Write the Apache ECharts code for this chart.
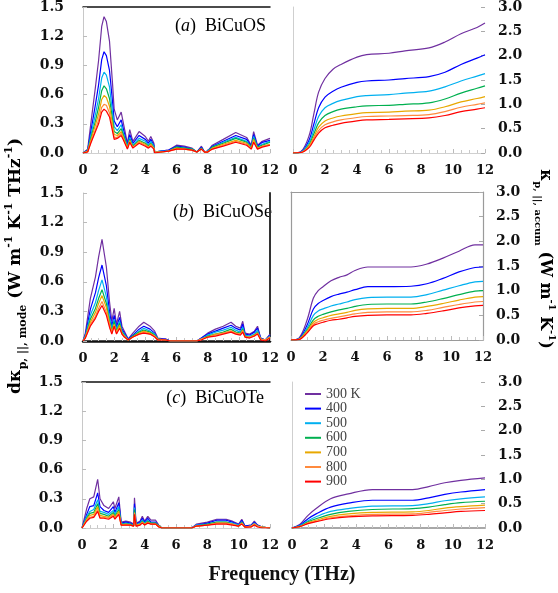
<!DOCTYPE html>
<html><head><meta charset="utf-8">
<script src="https://cdn.jsdelivr.net/npm/echarts@6/dist/echarts.min.js"></script>
<style>html,body{margin:0;padding:0;background:#fff}#c{width:558px;height:593px}</style>
</head><body><div id="c"></div>
<script>
// ---------- labels ----------
const TEMPS = ['300 K','400','500','600','700','800','900'];
const COLORS = ['#7030A0','#0000FF','#00B0F0','#00B050','#E8A800','#FF8A3D','#FF0000'];
const PANEL_LABELS = [['a','BiCuOS'],['b','BiCuOSe'],['c','BiCuOTe']];
const X_TITLE = 'Frequency (THz)';

// ---------- (a) BiCuOS : spectral ----------
const fA = [0,0.3,0.5,0.8,1.0,1.2,1.35,1.5,1.7,1.9,2.0,2.2,2.45,2.6,2.85,3.0,3.2,3.6,4.0,4.2,4.35,4.55,4.6,5.0,5.5,6.0,6.5,7.0,7.3,7.6,7.8,8.0,8.3,9.0,9.8,10.5,10.8,10.95,11.2,11.5,12];
const a300 = [0,0.04,0.30,0.68,0.95,1.30,1.40,1.35,1.15,0.70,0.45,0.34,0.42,0.30,0.10,0.24,0.12,0.22,0.17,0.12,0.17,0.10,0.01,0.02,0.03,0.08,0.07,0.05,0.01,0.07,0.01,0.02,0.08,0.14,0.21,0.16,0.08,0.22,0.08,0.12,0.15];
const a400 = [0,0.03,0.22,0.50,0.70,0.96,1.04,1.00,0.85,0.52,0.33,0.27,0.34,0.24,0.08,0.19,0.10,0.18,0.14,0.10,0.14,0.08,0.01,0.02,0.03,0.07,0.06,0.04,0.01,0.06,0.01,0.02,0.07,0.12,0.18,0.14,0.07,0.19,0.07,0.11,0.13];
const a500 = [0,0.02,0.18,0.40,0.56,0.77,0.83,0.80,0.68,0.41,0.27,0.23,0.29,0.20,0.07,0.16,0.08,0.15,0.12,0.08,0.12,0.07,0.01,0.02,0.02,0.06,0.05,0.04,0.01,0.05,0.01,0.02,0.06,0.11,0.16,0.12,0.06,0.17,0.06,0.09,0.12];
const a600 = [0,0.02,0.15,0.33,0.47,0.64,0.69,0.66,0.56,0.34,0.22,0.20,0.25,0.18,0.06,0.14,0.07,0.13,0.10,0.07,0.10,0.06,0.01,0.01,0.02,0.06,0.05,0.04,0.01,0.05,0.01,0.01,0.06,0.10,0.15,0.11,0.06,0.15,0.06,0.08,0.11];
const a700 = [0,0.02,0.13,0.29,0.40,0.55,0.59,0.57,0.48,0.29,0.19,0.18,0.22,0.16,0.05,0.13,0.06,0.12,0.09,0.06,0.09,0.05,0.01,0.01,0.02,0.05,0.04,0.03,0.01,0.04,0.01,0.01,0.05,0.09,0.13,0.10,0.05,0.14,0.05,0.07,0.09];
const a800 = [0,0.01,0.11,0.24,0.34,0.47,0.50,0.49,0.41,0.25,0.16,0.16,0.20,0.14,0.05,0.12,0.06,0.11,0.08,0.06,0.08,0.05,0.01,0.01,0.02,0.04,0.04,0.03,0.01,0.04,0.01,0.01,0.04,0.08,0.12,0.09,0.04,0.12,0.04,0.07,0.08];
const a900 = [0,0.01,0.10,0.22,0.30,0.42,0.45,0.43,0.37,0.22,0.14,0.15,0.18,0.13,0.04,0.11,0.05,0.10,0.07,0.05,0.07,0.04,0.00,0.01,0.02,0.04,0.04,0.03,0.01,0.04,0.01,0.01,0.04,0.07,0.11,0.08,0.04,0.11,0.04,0.06,0.08];

// ---------- (a) BiCuOS : cumulative ----------
const cfA = [0,0.5,1.0,1.3,1.6,2.0,2.5,3.0,4.0,4.6,6.0,7.0,8.5,9.5,10.5,11.5,12];
const ca300 = [0,0.03,0.35,0.80,1.25,1.53,1.72,1.82,1.97,2.02,2.05,2.10,2.16,2.28,2.45,2.58,2.67];
const ca400 = [0,0.02,0.26,0.59,0.93,1.15,1.27,1.35,1.45,1.48,1.50,1.53,1.57,1.66,1.82,1.95,2.02];
const ca500 = [0,0.02,0.21,0.47,0.75,0.93,1.02,1.08,1.16,1.18,1.20,1.23,1.27,1.36,1.48,1.58,1.63];
const ca600 = [0,0.01,0.17,0.39,0.62,0.77,0.85,0.90,0.95,0.97,0.98,1.00,1.03,1.11,1.23,1.33,1.38];
const ca700 = [0,0.01,0.15,0.33,0.53,0.66,0.72,0.76,0.81,0.83,0.84,0.86,0.88,0.95,1.05,1.12,1.16];
const ca800 = [0,0.01,0.13,0.29,0.46,0.58,0.64,0.68,0.73,0.75,0.76,0.77,0.79,0.85,0.94,1.00,1.03];
const ca900 = [0,0.01,0.11,0.26,0.41,0.52,0.57,0.61,0.66,0.68,0.69,0.70,0.72,0.77,0.85,0.90,0.93];

// ---------- (b) BiCuOSe : spectral ----------
const fB = [0,0.15,0.47,0.8,1.0,1.22,1.5,1.7,1.85,2.0,2.15,2.35,2.5,2.65,2.9,3.2,3.6,3.9,4.3,4.6,4.8,5.3,5.6,7.3,7.6,8.0,8.5,9.0,9.5,9.8,10.1,10.25,10.4,10.7,11.0,11.2,11.4,11.7,12];
const b300 = [0,0.08,0.43,0.65,0.85,1.03,0.75,0.40,0.20,0.33,0.17,0.30,0.15,0.10,0.02,0.08,0.15,0.19,0.15,0.10,0.03,0.02,0.00,0.00,0.03,0.08,0.12,0.15,0.19,0.15,0.13,0.20,0.08,0.07,0.10,0.15,0.03,0.01,0.07];
const b400 = [0,0.06,0.32,0.49,0.64,0.77,0.56,0.30,0.15,0.26,0.14,0.24,0.12,0.08,0.02,0.06,0.12,0.15,0.12,0.08,0.02,0.02,0.00,0.00,0.03,0.07,0.10,0.13,0.16,0.13,0.11,0.17,0.07,0.06,0.09,0.13,0.03,0.01,0.06];
const b500 = [0,0.05,0.26,0.39,0.51,0.62,0.45,0.24,0.12,0.22,0.12,0.20,0.10,0.07,0.01,0.05,0.10,0.13,0.10,0.07,0.02,0.01,0.00,0.00,0.02,0.06,0.09,0.11,0.14,0.11,0.09,0.14,0.06,0.05,0.07,0.11,0.02,0.01,0.05];
const b600 = [0,0.04,0.22,0.33,0.43,0.52,0.38,0.20,0.10,0.20,0.10,0.18,0.09,0.06,0.01,0.05,0.09,0.11,0.09,0.06,0.02,0.01,0.00,0.00,0.02,0.05,0.07,0.09,0.12,0.09,0.08,0.12,0.05,0.04,0.06,0.09,0.02,0.01,0.04];
const b700 = [0,0.04,0.19,0.29,0.38,0.46,0.34,0.18,0.09,0.17,0.09,0.16,0.08,0.05,0.01,0.04,0.08,0.10,0.08,0.05,0.02,0.01,0.00,0.00,0.02,0.04,0.07,0.08,0.10,0.08,0.07,0.11,0.04,0.04,0.06,0.08,0.02,0.01,0.04];
const b800 = [0,0.03,0.17,0.25,0.33,0.40,0.29,0.16,0.08,0.16,0.08,0.14,0.07,0.05,0.01,0.04,0.07,0.09,0.07,0.05,0.01,0.01,0.00,0.00,0.02,0.04,0.06,0.08,0.10,0.08,0.07,0.10,0.04,0.04,0.05,0.08,0.02,0.01,0.04];
const b900 = [0,0.03,0.15,0.23,0.30,0.36,0.26,0.14,0.07,0.15,0.07,0.13,0.07,0.04,0.01,0.04,0.07,0.08,0.07,0.04,0.01,0.01,0.00,0.00,0.01,0.04,0.05,0.07,0.09,0.07,0.06,0.09,0.04,0.03,0.05,0.07,0.01,0.00,0.03];

// ---------- (b) BiCuOSe : cumulative ----------
const cfB = [0,0.5,1.0,1.4,1.7,2.0,2.5,3.0,3.5,4.0,4.8,6.0,7.5,8.5,9.5,10.5,11.5,12];
const cb300 = [0,0.04,0.40,0.85,1.00,1.08,1.20,1.27,1.32,1.41,1.48,1.48,1.48,1.54,1.66,1.80,1.93,1.93];
const cb400 = [0,0.03,0.30,0.63,0.74,0.80,0.88,0.93,0.97,1.02,1.08,1.08,1.09,1.14,1.25,1.38,1.47,1.48];
const cb500 = [0,0.02,0.24,0.50,0.59,0.63,0.69,0.73,0.77,0.82,0.86,0.87,0.87,0.92,1.01,1.10,1.18,1.19];
const cb600 = [0,0.02,0.20,0.41,0.48,0.52,0.57,0.61,0.64,0.68,0.72,0.73,0.73,0.77,0.84,0.92,0.99,1.00];
const cb700 = [0,0.02,0.18,0.36,0.42,0.45,0.50,0.53,0.56,0.60,0.63,0.64,0.64,0.68,0.74,0.81,0.87,0.88];
const cb800 = [0,0.01,0.16,0.32,0.37,0.40,0.44,0.47,0.50,0.53,0.56,0.57,0.57,0.60,0.66,0.72,0.77,0.78];
const cb900 = [0,0.01,0.14,0.29,0.33,0.36,0.40,0.42,0.45,0.48,0.50,0.51,0.51,0.54,0.59,0.65,0.69,0.70];

// ---------- (c) BiCuOTe : spectral ----------
const fC = [0,0.3,0.5,0.75,1.0,1.15,1.4,1.7,2.0,2.1,2.35,2.5,2.8,3.1,3.3,3.35,3.45,3.7,3.85,4.0,4.2,4.4,4.7,4.9,5.1,7.0,7.3,8.0,8.6,9.2,9.6,10.0,10.2,10.4,10.8,11.0,11.2,11.5,12];
const c300 = [0,0.20,0.30,0.32,0.50,0.30,0.23,0.20,0.27,0.20,0.32,0.06,0.07,0.06,0.04,0.31,0.05,0.07,0.12,0.07,0.12,0.08,0.08,0.03,0.00,0.00,0.04,0.06,0.09,0.09,0.07,0.04,0.09,0.02,0.03,0.07,0.03,0.01,0.00];
const c400 = [0,0.14,0.22,0.23,0.36,0.22,0.18,0.16,0.22,0.16,0.26,0.05,0.06,0.05,0.03,0.25,0.04,0.06,0.10,0.06,0.10,0.06,0.06,0.02,0.00,0.00,0.03,0.05,0.08,0.08,0.06,0.03,0.08,0.02,0.03,0.06,0.03,0.01,0.00];
const c500 = [0,0.12,0.17,0.19,0.29,0.17,0.16,0.14,0.18,0.14,0.22,0.04,0.05,0.04,0.03,0.21,0.03,0.05,0.08,0.05,0.08,0.05,0.05,0.02,0.00,0.00,0.03,0.04,0.06,0.06,0.05,0.03,0.06,0.01,0.02,0.05,0.02,0.01,0.00];
const c600 = [0,0.10,0.15,0.16,0.25,0.15,0.14,0.12,0.16,0.12,0.19,0.04,0.04,0.04,0.02,0.19,0.03,0.04,0.07,0.04,0.07,0.05,0.05,0.02,0.00,0.00,0.02,0.04,0.06,0.06,0.04,0.02,0.06,0.01,0.02,0.04,0.02,0.01,0.00];
const c700 = [0,0.09,0.13,0.14,0.22,0.13,0.12,0.11,0.14,0.11,0.17,0.03,0.04,0.03,0.02,0.16,0.03,0.04,0.06,0.04,0.06,0.04,0.04,0.02,0.00,0.00,0.02,0.03,0.05,0.05,0.04,0.02,0.05,0.01,0.02,0.04,0.02,0.01,0.00];
const c800 = [0,0.08,0.11,0.12,0.19,0.11,0.11,0.10,0.13,0.10,0.15,0.03,0.03,0.03,0.02,0.15,0.02,0.03,0.06,0.03,0.06,0.04,0.04,0.01,0.00,0.00,0.02,0.03,0.05,0.05,0.04,0.02,0.05,0.01,0.02,0.04,0.02,0.01,0.00];
const c900 = [0,0.07,0.10,0.11,0.17,0.10,0.10,0.09,0.12,0.09,0.14,0.03,0.03,0.03,0.02,0.14,0.02,0.03,0.05,0.03,0.05,0.04,0.04,0.01,0.00,0.00,0.02,0.03,0.04,0.04,0.03,0.02,0.04,0.01,0.01,0.03,0.01,0.00,0.00];

// ---------- (c) BiCuOTe : cumulative ----------
const cfC = [0,0.5,1.0,1.5,2.4,3.5,5.0,7.5,8.5,9.5,10.5,12];
const cc300 = [0,0.08,0.26,0.40,0.60,0.70,0.79,0.79,0.85,0.93,0.98,1.03];
const cc400 = [0,0.06,0.19,0.29,0.43,0.51,0.57,0.57,0.62,0.69,0.74,0.79];
const cc500 = [0,0.05,0.15,0.23,0.34,0.40,0.45,0.46,0.50,0.56,0.60,0.64];
const cc600 = [0,0.04,0.13,0.19,0.28,0.34,0.38,0.40,0.43,0.48,0.52,0.55];
const cc700 = [0,0.03,0.11,0.16,0.24,0.29,0.32,0.33,0.36,0.41,0.44,0.47];
const cc800 = [0,0.03,0.10,0.14,0.21,0.25,0.28,0.29,0.32,0.36,0.39,0.42];
const cc900 = [0,0.03,0.09,0.13,0.19,0.23,0.25,0.26,0.28,0.31,0.34,0.36];

// ---------- assembly ----------
const PANELS = [
  {x: fA,  ys: [a300,a400,a500,a600,a700,a800,a900], smooth:false},
  {x: cfA, ys: [ca300,ca400,ca500,ca600,ca700,ca800,ca900], smooth:0.35},
  {x: fB,  ys: [b300,b400,b500,b600,b700,b800,b900], smooth:false},
  {x: cfB, ys: [cb300,cb400,cb500,cb600,cb700,cb800,cb900], smooth:0.35},
  {x: fC,  ys: [c300,c400,c500,c600,c700,c800,c900], smooth:false},
  {x: cfC, ys: [cc300,cc400,cc500,cc600,cc700,cc800,cc900], smooth:0.35}
];

const GRIDS = [
  {left:83, top:6, width:187, height:147},
  {left:293, top:6, width:192, height:147},
  {left:83, top:193, width:187, height:148},
  {left:291, top:192, width:192, height:148},
  {left:82, top:382, width:188, height:146},
  {left:292, top:382, width:193, height:146}
];
const BOTTOM_LINE = [
  {color:'#d0d0d0', width:1},{color:'#d0d0d0', width:1},
  {color:'#111', width:2.5},{color:'#9a9a9a', width:1.2},
  {color:'#d0d0d0', width:1},{color:'#a8a8a8', width:2}
];

const tickFont = {fontFamily:'DejaVu Serif', fontWeight:'bold', color:'#111'};

const xAxes = [], yAxes = [];
GRIDS.forEach((g, i) => {
  xAxes.push({
    type:'value', gridIndex:i, min:0, max:12, interval:2,
    axisLine:{show:true, onZero:false, lineStyle:BOTTOM_LINE[i]},
    axisTick:{show:true, inside:true, length:4, lineStyle:{color:'#bbb'}},
    minorTick:{show:true, splitNumber:4, length:3, lineStyle:{color:'#c8c8c8'}},
    splitLine:{show:false}, minorSplitLine:{show:false},
    axisLabel:Object.assign({fontSize:13, margin:11}, tickFont)
  });
  const isLeft = i % 2 === 0;
  yAxes.push(isLeft ? {
    type:'value', gridIndex:i, min:0, max:1.5, interval:0.3, position:'left',
    axisLine:{show:true, onZero:false, lineStyle:{color:'#c8c8c8'}},
    axisTick:{show:true, inside:true, length:4, lineStyle:{color:'#bbb'}},
    splitLine:{show:false},
    axisLabel:Object.assign({fontSize:14, margin:19, formatter:v => v.toFixed(1)}, tickFont)
  } : {
    type:'value', gridIndex:i, min:0, max:3, interval:0.5, position:'right',
    axisLine:{show:i===3, onZero:false, lineStyle:{color:'#9a9a9a', width:1.2}},
    axisTick:{show:true, inside:true, length:4, lineStyle:{color:'#aaa'}},
    splitLine:{show:false},
    axisLabel:Object.assign({fontSize:14, margin:13, formatter:v => v.toFixed(1)}, tickFont)
  });
});
function frameAxis(gi, position, color, width) {
  return {type:'value', gridIndex:gi, position, min:0, max:1,
    axisLine:{show:true, onZero:false, lineStyle:{color, width}},
    axisTick:{show:false}, axisLabel:{show:false}, splitLine:{show:false}};
}
xAxes.push(frameAxis(0,'top','#111',1.5));
xAxes.push(frameAxis(3,'top','#9a9a9a',1.2));
xAxes.push(frameAxis(4,'top','#111',1.5));
yAxes.push(frameAxis(1,'left','#cfcfcf',1));
yAxes.push(frameAxis(2,'right','#333',2));
yAxes.push(frameAxis(3,'left','#9a9a9a',1.2));
yAxes.push(frameAxis(5,'left','#cfcfcf',1));

const series = [];
PANELS.forEach((p, i) => {
  p.ys.forEach((vals, t) => {
    series.push({
      type:'line', name:TEMPS[t], xAxisIndex:i, yAxisIndex:i,
      data:p.x.map((f, k) => [f, vals[k]]),
      symbol:'none', smooth:p.smooth, silent:true,
      lineStyle:{color:COLORS[t], width:1.2},
      itemStyle:{color:COLORS[t]}
    });
  });
});

const serifRich = {
  n:{fontFamily:'Liberation Serif', fontSize:18, color:'#333'},
  i:{fontFamily:'Liberation Serif', fontSize:18, fontStyle:'italic', color:'#333'}
};
const PANEL_POS = [[266,26],[272,212],[264,398]];
const graphics = PANEL_LABELS.map((pl, k) => ({
  type:'text', x:PANEL_POS[k][0], y:PANEL_POS[k][1], silent:true,
  style:{text:'{n|(}{i|' + pl[0] + '}{n|)  ' + pl[1] + '}', rich:serifRich, align:'right', verticalAlign:'middle'}
}));

const titleRich = {
  b:{fontFamily:'DejaVu Serif', fontWeight:'bold', fontSize:17, lineHeight:25, color:'#111', verticalAlign:'middle'},
  s:{fontFamily:'DejaVu Serif', fontWeight:'bold', fontSize:11, lineHeight:11, color:'#111', verticalAlign:'bottom'},
  u:{fontFamily:'DejaVu Serif', fontWeight:'bold', fontSize:11, lineHeight:11, color:'#111', verticalAlign:'top'}
};
const rightRich = {
  b:{fontFamily:'DejaVu Serif', fontWeight:'bold', fontSize:16, lineHeight:24, color:'#111', verticalAlign:'middle'},
  s:{fontFamily:'DejaVu Serif', fontWeight:'bold', fontSize:10, lineHeight:10, color:'#111', verticalAlign:'bottom'},
  u:{fontFamily:'DejaVu Serif', fontWeight:'bold', fontSize:10, lineHeight:10, color:'#111', verticalAlign:'top'}
};
graphics.push({
  type:'text', x:16, y:266, rotation:Math.PI/2, silent:true,
  style:{text:'{b|dκ}{s|p, ||, mode}{b| (W m}{u|-1}{b| K}{u|-1}{b| THz}{u|-1}{b|)}', rich:titleRich, align:'center', verticalAlign:'middle'}
});
graphics.push({
  type:'text', x:545, y:259, rotation:-Math.PI/2, silent:true,
  style:{text:'{b|κ}{s|p, ||, accum}{b| (W m}{u|-1}{b| K}{u|-1}{b|)}', rich:rightRich, align:'center', verticalAlign:'middle'}
});
graphics.push({
  type:'text', x:282, y:575, silent:true,
  style:{text:X_TITLE, fontFamily:'Liberation Serif', fontWeight:'bold', fontSize:20, fill:'#111', align:'center', verticalAlign:'middle'}
});

const chart = echarts.init(document.getElementById('c'), null, {renderer:'canvas'});
chart.setOption({
  animation:false,
  backgroundColor:'#fff',
  grid:GRIDS,
  xAxis:xAxes,
  yAxis:yAxes,
  legend:{
    data:TEMPS, orient:'vertical', left:300, top:382,
    icon:'rect', itemWidth:16, itemHeight:2, itemGap:0.6, selectedMode:false,
    textStyle:{fontFamily:'Liberation Serif', fontSize:14, lineHeight:14, color:'#444'}
  },
  graphic:graphics,
  series:series
});
</script>
</body></html>
